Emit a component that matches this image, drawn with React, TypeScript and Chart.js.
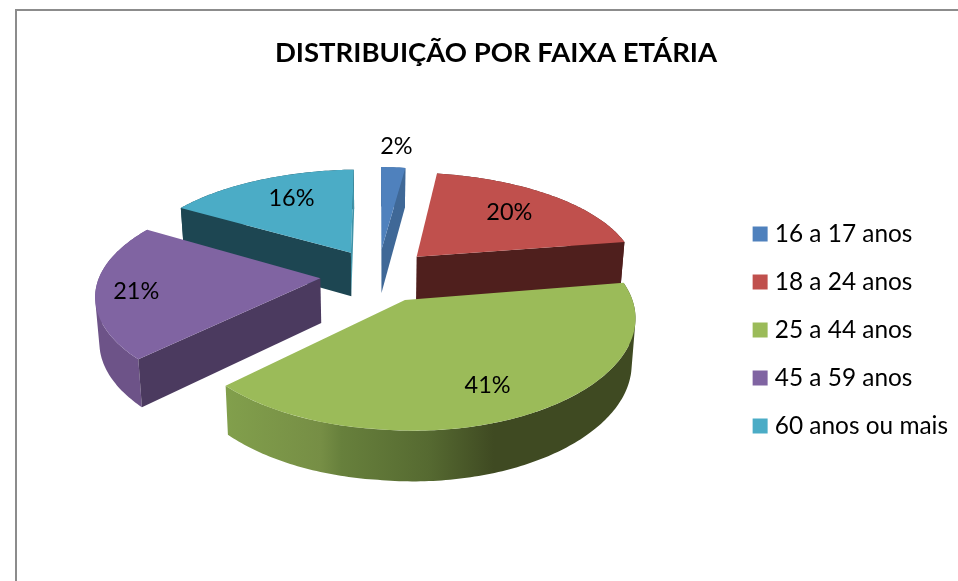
import React, { useEffect, useRef } from "react";
import { Chart, registerables } from "chart.js";

Chart.register(...registerables);

const titleText = "DISTRIBUIÇÃO POR FAIXA ETÁRIA";
const categories = ["16 a 17 anos", "18 a 24 anos", "25 a 44 anos", "45 a 59 anos", "60 anos ou mais"];
const shares = [2, 20, 41, 21, 16];
const topColors = ["#4f81bd", "#c0504d", "#9bbb59", "#8064a2", "#4bacc6"];
const startCutColors = ["#3f6897", "#4f1f1d", "#4f1f1d", "#4b3a5f", "#1d4652"];
const endCutColors = ["#3f6897", "#4f1f1d", "#3f4a22", "#4b3a5f", "#3f93a8"];
const labelReach = [1.31, 0.69, 0.76, 0.82, 0.7];
const labelTurn = [0, -1, 2, -2, 3];
const paintOrder = [0, 4, 1, 3, 2];

const VIEW = { cx: 378, cy: 275, sx: 222, sy: 102.3, perspX: 0.12, perspY: 0.153, bow: 3, explode: 0.26, depth: 44.5, depthPersp: 0.1, converge: 0.015 };

// Perspective view of a point on the pie plane (u, v in pie radii; v grows towards the viewer).
function view(u: number, v: number, drop: boolean): [number, number] {
  let x = VIEW.cx + (VIEW.sx * u) / (1 - VIEW.perspX * v);
  let y = VIEW.cy + (VIEW.sy * v) / (1 - VIEW.perspY * v) + VIEW.bow * Math.abs(u);
  if (drop) {
    x = VIEW.cx + (x - VIEW.cx) * (1 - VIEW.converge);
    y += VIEW.depth / (1 - VIEW.depthPersp * v);
  }
  return [x, y];
}

function slicePoint(arc: any, px: number, py: number, drop: boolean) {
  const mid = (arc.startAngle + arc.endAngle) / 2;
  const u = (px - arc.x) / arc.outerRadius + VIEW.explode * Math.cos(mid);
  const v = (py - arc.y) / arc.outerRadius + VIEW.explode * Math.sin(mid);
  return view(u, v, drop);
}

function rimPoint(arc: any, a: number, r: number, drop: boolean) {
  return slicePoint(arc, arc.x + arc.outerRadius * r * Math.cos(a), arc.y + arc.outerRadius * r * Math.sin(a), drop);
}

// Lets the library's own ArcElement.draw paint through the perspective view.
function lens(ctx: CanvasRenderingContext2D, arc: any) {
  return new Proxy(ctx, {
    get(t: any, k: string) {
      if (k === "arc") {
        return (x: number, y: number, r: number, a0: number, a1: number) => {
          const n = Math.max(2, Math.ceil(Math.abs(a1 - a0) * 60));
          for (let i = 0; i <= n; i++) {
            const a = a0 + ((a1 - a0) * i) / n;
            const p = slicePoint(arc, x + r * Math.cos(a), y + r * Math.sin(a), false);
            t.lineTo(p[0], p[1]);
          }
        };
      }
      if (k === "moveTo" || k === "lineTo") {
        return (x: number, y: number) => {
          const p = slicePoint(arc, x, y, false);
          t[k](p[0], p[1]);
        };
      }
      const val = t[k];
      return typeof val === "function" ? val.bind(t) : val;
    },
    set(t: any, k: string, val: any) {
      t[k] = val;
      return true;
    },
  });
}

function wallFill(ctx: CanvasRenderingContext2D, i: number) {
  if (i === 2) {
    const g = ctx.createLinearGradient(222, 0, 634, 0);
    g.addColorStop(0, "#82a04c");
    g.addColorStop(0.24, "#768e45");
    g.addColorStop(0.29, "#67803c");
    g.addColorStop(0.5, "#566a31");
    g.addColorStop(0.66, "#3f4a22");
    g.addColorStop(1, "#3f4a22");
    return g;
  }
  if (i === 3) return "#6d5388";
  return startCutColors[i];
}

function trace(ctx: CanvasRenderingContext2D, pts: number[][]) {
  pts.forEach((p, n) => (n ? ctx.lineTo(p[0], p[1]) : ctx.moveTo(p[0], p[1])));
  ctx.closePath();
}

function face(ctx: CanvasRenderingContext2D, pts: number[][], fill: any) {
  ctx.beginPath();
  trace(ctx, pts);
  ctx.fillStyle = fill;
  ctx.fill();
}

function area(pts: number[][]) {
  let sum = 0;
  pts.forEach((p, n) => {
    const q = pts[(n + 1) % pts.length];
    sum += p[0] * q[1] - q[0] * p[1];
  });
  return sum;
}

const pie3d = {
  id: "pie3d",
  beforeDraw(chart: any) {
    const { ctx, width, height } = chart;
    ctx.save();
    ctx.fillStyle = "#fff";
    ctx.fillRect(0, 0, width, height);
    ctx.strokeStyle = "#8c8c8c";
    ctx.lineWidth = 2;
    ctx.beginPath();
    ctx.moveTo(16, height + 2);
    ctx.lineTo(16, 10);
    ctx.lineTo(width + 2, 10);
    ctx.stroke();
    ctx.restore();
  },
  beforeDatasetDraw(chart: any) {
    const { ctx } = chart;
    const arcs = chart.getDatasetMeta(0).data;
    ctx.save();
    for (const i of paintOrder) {
      const arc = arcs[i];
      const { startAngle: a0, endAngle: a1 } = arc;
      const n = Math.max(2, Math.ceil((a1 - a0) * 60));
      // the rim wall is one path of same-winding quads, so it has no seams and a closed silhouette
      ctx.beginPath();
      for (let s = 0; s < n; s++) {
        const a = a0 + ((a1 - a0) * s) / n;
        const b = a0 + ((a1 - a0) * (s + 1)) / n;
        const quad = [rimPoint(arc, a, 1, false), rimPoint(arc, b, 1, false), rimPoint(arc, b, 1, true), rimPoint(arc, a, 1, true)];
        trace(ctx, area(quad) < 0 ? quad.reverse() : quad);
      }
      ctx.fillStyle = wallFill(ctx, i);
      ctx.fill("nonzero");
      const apexT = rimPoint(arc, a0, 0, false);
      const apexB = rimPoint(arc, a0, 0, true);
      const startT = rimPoint(arc, a0, 1, false);
      const startB = rimPoint(arc, a0, 1, true);
      const endT = rimPoint(arc, a1, 1, false);
      const endB = rimPoint(arc, a1, 1, true);
      if (startT[0] < apexT[0]) face(ctx, [apexT, startT, startB, apexB], startCutColors[i]);
      if (endT[0] > apexT[0]) face(ctx, [apexT, endT, endB, apexB], endCutColors[i]);
      arc.draw(lens(ctx, arc));
    }
    ctx.restore();
    return false;
  },
  afterDatasetsDraw(chart: any) {
    const { ctx } = chart;
    const arcs = chart.getDatasetMeta(0).data;
    ctx.save();
    ctx.fillStyle = "#000";
    ctx.font = "23.5px Lato";
    ctx.textAlign = "center";
    ctx.textBaseline = "middle";
    arcs.forEach((arc: any, i: number) => {
      const a = (arc.startAngle + arc.endAngle) / 2 + (labelTurn[i] * Math.PI) / 180;
      const p = rimPoint(arc, a, labelReach[i], false);
      ctx.fillText(shares[i] + "%", p[0], p[1]);
    });
    ctx.restore();
  },
};

export default function App() {
  const ref = useRef<HTMLCanvasElement>(null);
  useEffect(() => {
    document.body.style.margin = "0";
    document.body.style.overflow = "hidden";
    const chart = new Chart(ref.current as HTMLCanvasElement, {
      type: "pie",
      data: {
        labels: categories,
        datasets: [{ data: shares, backgroundColor: topColors, borderWidth: 0, clip: false } as any],
      },
      options: {
        animation: false,
        responsive: false,
        layout: { padding: { left: 34, right: 0, top: 37, bottom: -42 } },
        plugins: {
          title: {
            display: true,
            text: titleText,
            color: "#000",
            font: { family: "Lato", size: 27.5, weight: "bold" },
            padding: { top: 0, bottom: 20 },
          },
          legend: {
            position: "right",
            labels: {
              color: "#000",
              font: { family: "Lato", size: 24.4 },
              padding: 23.6,
              usePointStyle: true,
              pointStyle: "rect",
              boxWidth: 5,
              boxHeight: 15,
            },
          },
          tooltip: { enabled: false },
        },
      },
      plugins: [pie3d],
    } as any);
    return () => chart.destroy();
  }, []);
  return <canvas ref={ref} width={958} height={581} style={{ display: "block" }} />;
}
